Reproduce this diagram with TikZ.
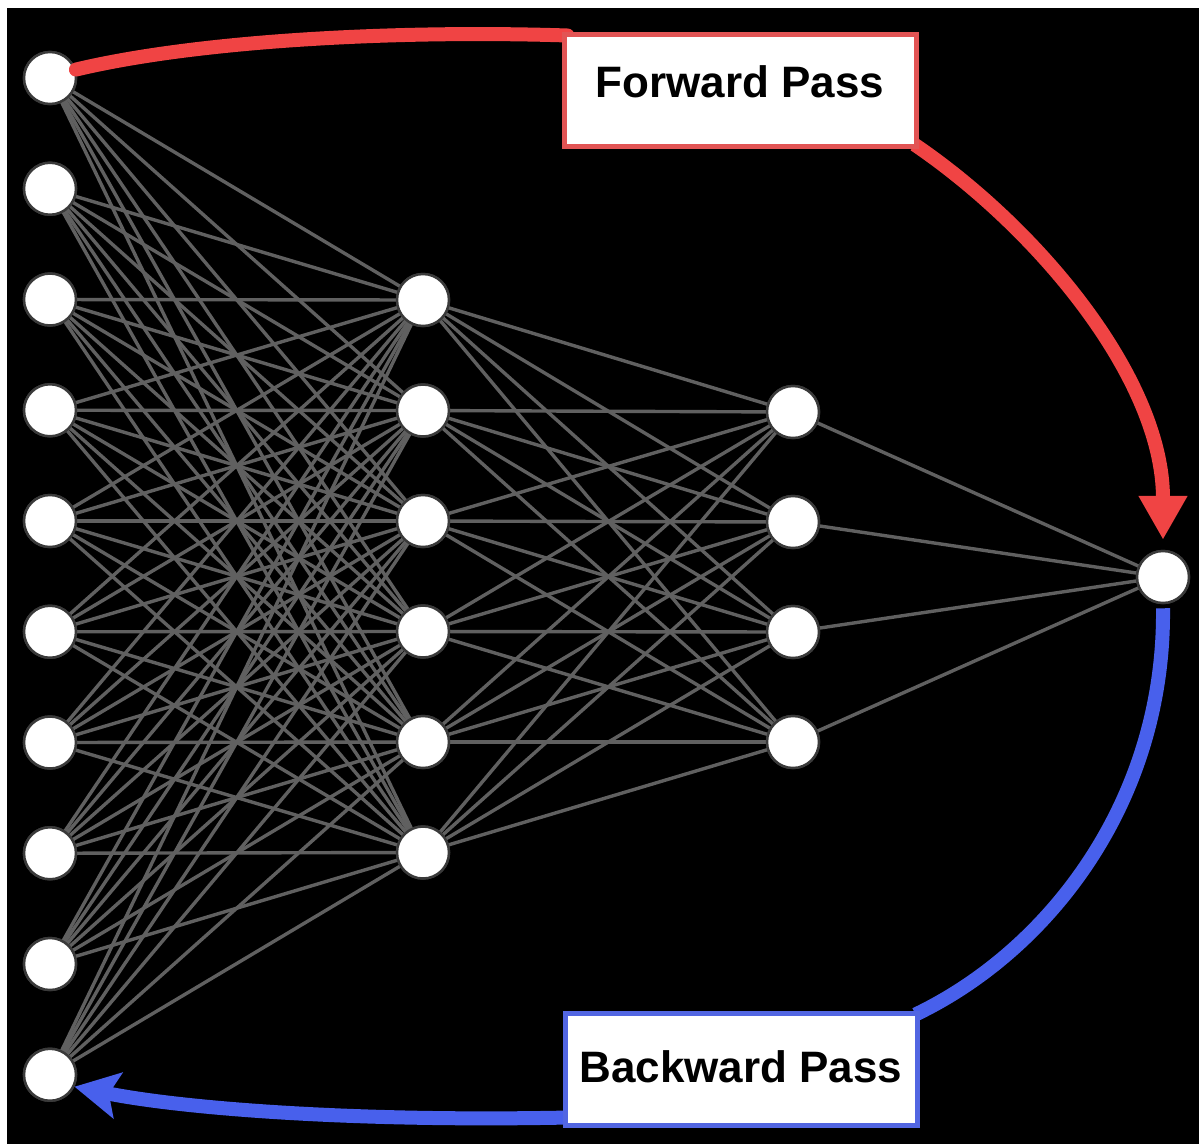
\documentclass[tikz,border=0pt]{standalone}
\usepackage{fontspec}
\setmainfont{Liberation Sans}
\usetikzlibrary{arrows.meta}
\definecolor{fwdred}{RGB}{240,68,68}
\definecolor{fwdbox}{RGB}{226,84,84}
\definecolor{bwdblue}{RGB}{72,96,236}
\definecolor{bwdbox}{RGB}{82,102,226}
\definecolor{linkgray}{RGB}{96,96,96}
\definecolor{rimgray}{RGB}{58,58,58}
\begin{document}
\begin{tikzpicture}[x=1pt,y=-1pt,
  neuron/.style={circle,fill=white,draw=rimgray,line width=2.5pt,minimum size=52pt,inner sep=0pt},
  link/.style={draw=linkgray,line width=3.4pt},
  fwdarrow/.style={draw=fwdred,line width=14pt},
  bwdarrow/.style={draw=bwdblue,line width=14pt},
  passbox/.style={rectangle,fill=white,line width=5pt,minimum width=352pt,minimum height=112pt,inner sep=0pt,
    font=\fontsize{44}{50}\selectfont\bfseries,text=black}]

% canvas
\fill[white] (0,0) rectangle (1199,1144);
\fill[black] (7,8) rectangle (1199,1144);

% layers of neurons
\foreach \i in {1,...,10}
  \node[neuron] (in\i) at (50,{78+110.75*(\i-1)}) {};
\foreach \j in {1,...,6}
  \node[neuron] (ha\j) at (423,{300+110.5*(\j-1)}) {};
\foreach \k in {1,...,4}
  \node[neuron] (hb\k) at (793,{412+110*(\k-1)}) {};
\node[neuron] (out) at (1163,577) {};

% full connections between consecutive layers
\foreach \i in {1,...,10}
  \foreach \j in {1,...,6}
    \draw[link] (in\i.center) -- (ha\j.center);
\foreach \j in {1,...,6}
  \foreach \k in {1,...,4}
    \draw[link] (ha\j.center) -- (hb\k.center);
\foreach \k in {1,...,4}
  \draw[link] (hb\k.center) -- (out.center);

% neurons drawn again on top of the connections
\foreach \i in {1,...,10}
  \node[neuron] at (in\i) {};
\foreach \j in {1,...,6}
  \node[neuron] at (ha\j) {};
\foreach \k in {1,...,4}
  \node[neuron] at (hb\k) {};
\node[neuron] at (out) {};

% label boxes
\node[passbox,draw=fwdbox,text depth=17pt] (fbox) at (740,90) {Forward Pass};
\node[passbox,draw=bwdbox,text depth=4pt] (bbox) at (741,1069) {Backward Pass};

% forward pass arrow
\draw[fwdarrow,line cap=round] (in1.18) .. controls (200,40) and (400,30) .. ([xshift=6pt,yshift=-4pt]fbox.north west);
\draw[fwdarrow,-{Triangle[width=46pt,length=44pt]}] ([xshift=-4pt,yshift=4pt]fbox.south east)
  .. controls (1040,230) and (1163,380) .. ([yshift=10pt]out.north);

% backward pass arrow
\draw[bwdarrow] ([yshift=-4pt]out.south) .. controls (1165,800) and (1050,950) .. ([xshift=-4pt,yshift=-4pt]bbox.north east);
\draw[bwdarrow,-{Stealth[width=46pt,length=44pt,inset=9pt]}] ([xshift=6pt,yshift=10pt]bbox.south west)
  .. controls (350,1122) and (180,1108) .. (in10.-26);

% boxes redrawn above the arrow ends
\node[passbox,draw=fwdbox,text depth=17pt] at (fbox) {Forward Pass};
\node[passbox,draw=bwdbox,text depth=4pt] at (bbox) {Backward Pass};
\end{tikzpicture}
\end{document}
